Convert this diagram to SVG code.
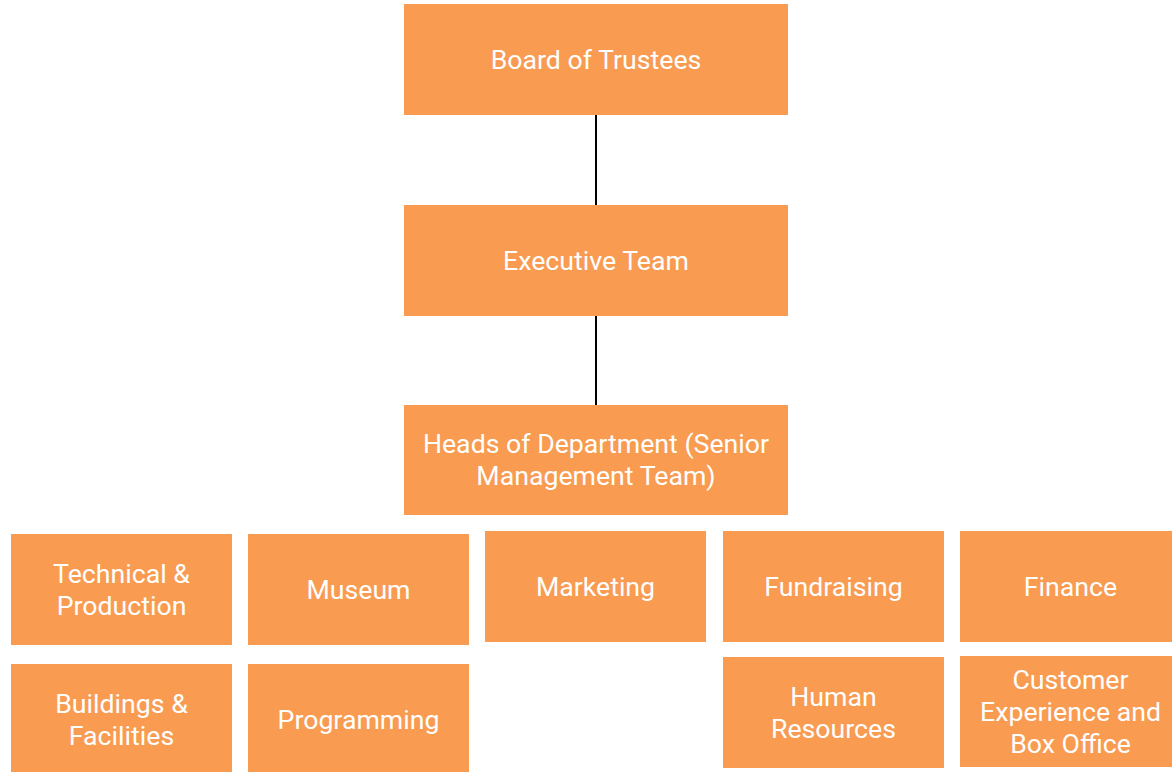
<svg xmlns="http://www.w3.org/2000/svg" width="1172" height="772" viewBox="0 0 1172 772">
<style>
.box{fill:#F99B51;}
.lbl{fill:#FFFFFF;font-family:Roboto,"Liberation Sans",sans-serif;font-size:26.7px;text-anchor:middle;}
.conn{stroke:#000000;stroke-width:2;fill:none;}
</style>
<rect width="1172" height="772" fill="#FFFFFF"/>
<g id="connectors">
<line class="conn" x1="596" y1="115" x2="596" y2="205"/>
<line class="conn" x1="596" y1="316" x2="596" y2="405"/>
</g>
<g id="board"><rect class="box" x="404" y="4" width="384" height="111"/><text class="lbl" x="596" y="69">Board of Trustees</text></g>
<g id="executive"><rect class="box" x="404" y="205" width="384" height="111"/><text class="lbl" x="596" y="270">Executive Team</text></g>
<g id="heads"><rect class="box" x="404" y="405" width="384" height="110"/><text class="lbl" x="596" y="453">Heads of Department (Senior</text><text class="lbl" x="596" y="485">Management Team)</text></g>
<g id="technical"><rect class="box" x="11" y="534" width="221" height="111"/><text class="lbl" x="121.5" y="583">Technical &amp;</text><text class="lbl" x="121.5" y="615">Production</text></g>
<g id="museum"><rect class="box" x="248" y="534" width="221" height="111"/><text class="lbl" x="358.5" y="599">Museum</text></g>
<g id="buildings"><rect class="box" x="11" y="664" width="221" height="112"/><text class="lbl" x="121.5" y="713">Buildings &amp;</text><text class="lbl" x="121.5" y="745">Facilities</text></g>
<g id="programming"><rect class="box" x="248" y="664" width="221" height="112"/><text class="lbl" x="358.5" y="729">Programming</text></g>
<g id="marketing"><rect class="box" x="485" y="531" width="221" height="111"/><text class="lbl" x="595.5" y="596">Marketing</text></g>
<g id="fundraising"><rect class="box" x="723" y="531" width="221" height="111"/><text class="lbl" x="833.5" y="596">Fundraising</text></g>
<g id="finance"><rect class="box" x="960" y="531" width="212" height="111"/><text class="lbl" x="1070.5" y="596">Finance</text></g>
<g id="hr"><rect class="box" x="723" y="657" width="221" height="111"/><text class="lbl" x="833.5" y="706">Human</text><text class="lbl" x="833.5" y="738">Resources</text></g>
<g id="customer"><rect class="box" x="960" y="656" width="212" height="111"/><text class="lbl" x="1070.5" y="689">Customer</text><text class="lbl" x="1070.5" y="721">Experience and</text><text class="lbl" x="1070.5" y="753">Box Office</text></g>
</svg>
